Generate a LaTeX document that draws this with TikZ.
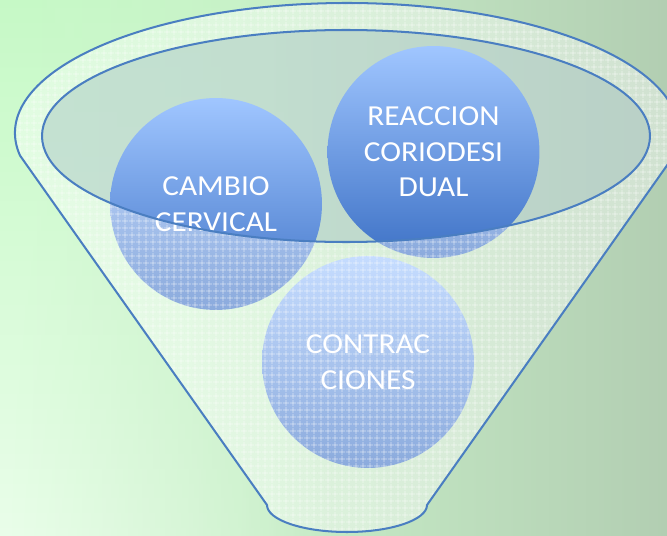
\documentclass[tikz,border=0pt]{standalone}
\usepackage{fontspec}
\setmainfont{Carlito}[FakeStretch=1.08]
\usetikzlibrary{patterns.meta,fadings}

\definecolor{bgleft}{RGB}{214,250,214}
\definecolor{bgmid}{RGB}{200,238,200}
\definecolor{bgmidd}{RGB}{178,206,178}
\definecolor{bgright}{RGB}{160,174,160}
\definecolor{bgtop}{RGB}{198,250,198}
\definecolor{bgbot}{RGB}{234,254,234}
\definecolor{bubtop}{RGB}{160,198,255}
\definecolor{bubbot}{RGB}{62,114,198}
\definecolor{rimblue}{RGB}{74,126,193}
\definecolor{mouth}{RGB}{190,210,212}

\pgfdeclarehorizontalshading{bgshade}{100bp}{color(0bp)=(bgleft); color(45bp)=(bgmid); color(75bp)=(bgmidd); color(100bp)=(bgright)}
\tikzfading[name=fade right, left color=transparent!0, right color=transparent!100]

\begin{document}
\begin{tikzpicture}[x=0.02cm,y=0.02cm]
\tikzstyle{every node}=[]
\tikzstyle{bubble}=[circle, inner sep=0pt, minimum size=4.24cm, top color=bubtop, bottom color=bubbot, text=white, align=center, font=\fontsize{16.5}{20.2}\selectfont]
\tikzstyle{rim}=[draw=rimblue, line width=1.15pt]

\useasboundingbox (0,0) rectangle (667,535);

% background
\shade[shading=bgshade] (0,0) rectangle (667,535);
\shade[top color=bgtop, bottom color=bgbot, path fading=fade right] (0,0) rectangle (330,535);

% mouth of the funnel
\fill[mouth, fill opacity=0.6] (346,399) ellipse [x radius=304, y radius=106];

% the three bubbles
\node[bubble] (CA) at (216,331) {CAMBIO\\CERVICAL};
\node[bubble] (RE) at (433.5,383) {REACCION\\CORIODESI\\DUAL};
\node[bubble] (CO) at (368,173) {CONTRAC\\CIONES};

% funnel body over the bubbles
\fill[white, fill opacity=0.4, even odd rule]
  (20.04,379.43) arc[start angle=190, end angle=-10, x radius=332, y radius=130]
  -- (427,30) arc[start angle=0, end angle=-180, x radius=80, y radius=27] -- cycle
  (346,399) ellipse [x radius=304, y radius=106];
\fill[pattern={Hatch[distance=4pt, line width=0.5pt]}, pattern color=white, fill opacity=0.6, even odd rule]
  (20.04,379.43) arc[start angle=190, end angle=-10, x radius=332, y radius=130]
  -- (427,30) arc[start angle=0, end angle=-180, x radius=80, y radius=27] -- cycle
  (346,399) ellipse [x radius=304, y radius=106];

% outlines
\draw[rim] (20.04,379.43) arc[start angle=190, end angle=-10, x radius=332, y radius=130]
  -- (427,30) arc[start angle=0, end angle=-180, x radius=80, y radius=27] -- cycle;
\draw[rim] (346,399) ellipse [x radius=304, y radius=106];

\end{tikzpicture}
\end{document}
